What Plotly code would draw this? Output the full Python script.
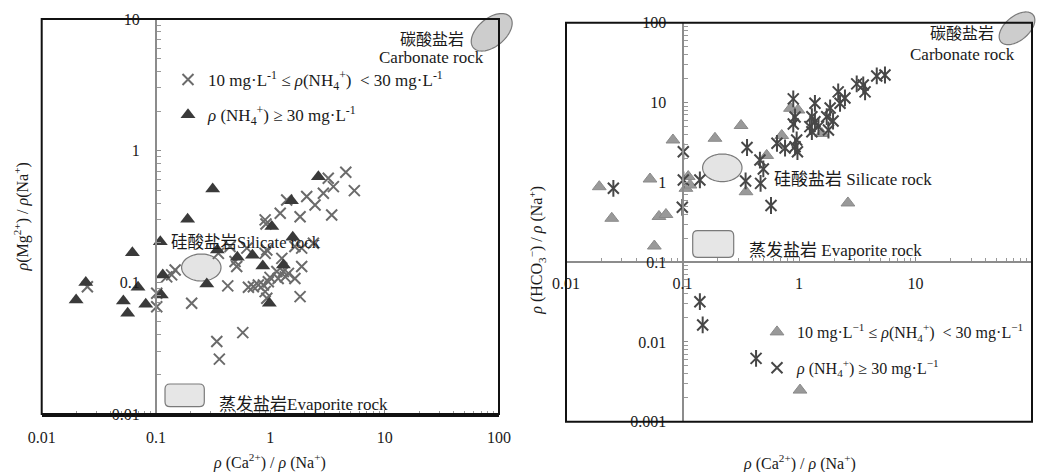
import math
import plotly.graph_objects as go

W, H = 1043, 472
FONT = "Liberation Serif, Noto Sans CJK SC, serif"
TXT = "#1a1a1a"

# ---------------- left panel: rho(Mg2+)/rho(Na+) vs rho(Ca2+)/rho(Na+)
# 10 mg/L <= rho(NH4+) < 30 mg/L
L_MID_CA = [0.0251, 0.1014, 0.1014, 0.124, 0.147, 0.205, 0.424, 0.340, 0.358, 0.574,
            0.643, 0.785, 0.931, 0.993, 1.14, 1.35, 1.64, 1.82, 1.88, 1.26,
            0.508, 0.444, 0.623, 0.931, 1.88, 2.38, 0.90, 0.916, 1.22, 1.39,
            1.82, 2.08, 2.46, 2.91, 3.21, 3.56, 4.57, 5.43, 3.44, 0.351,
            0.90, 1.44, 0.71, 0.137, 1.30, 1.17, 0.96, 0.491, 0.90, 0.869, 1.64]
L_MID_MG = [0.0927, 0.0826, 0.0653, 0.110, 0.124, 0.0694, 0.094, 0.0355, 0.0261, 0.0415,
            0.0918, 0.0955, 0.0757, 0.109, 0.121, 0.110, 0.107, 0.0779, 0.132, 0.152,
            0.132, 0.187, 0.182, 0.176, 0.182, 0.198, 0.298, 0.277, 0.335, 0.422,
            0.315, 0.448, 0.387, 0.475, 0.617, 0.533, 0.686, 0.497, 0.325, 0.166,
            0.085, 0.117, 0.0927, 0.114, 0.121, 0.107, 0.101, 0.144, 0.166, 0.0955, 0.187]
# rho(NH4+) >= 30 mg/L
L_HIGH_CA = [0.020, 0.0243, 0.0518, 0.0565, 0.0621, 0.0696, 0.0813, 0.109, 0.1146, 0.1113,
             0.189, 0.313, 0.278, 0.344, 0.514, 0.697, 0.859, 1.03, 0.98, 1.30,
             1.53, 1.57, 2.63]
L_HIGH_MG = [0.0735, 0.0995, 0.0722, 0.0582, 0.168, 0.0918, 0.0682, 0.203, 0.1138, 0.0802,
             0.301, 0.512, 0.0973, 0.176, 0.155, 0.1606, 0.133, 0.265, 0.0694, 0.1355,
             0.417, 0.220, 0.635]

# ---------------- right panel: rho(HCO3-)/rho(Na+) vs rho(Ca2+)/rho(Na+)
R_MID_CA = [0.0193, 0.0247, 0.0526, 0.0573, 0.0628, 0.0721, 0.0828, 0.112, 0.107, 0.116,
            0.190, 0.318, 0.351, 0.528, 0.711, 0.845, 0.98, 1.57, 2.63, 1.02]
R_MID_HCO3 = [0.881, 0.354, 1.10, 0.159, 0.373, 0.395, 3.39, 1.18, 0.841, 0.925,
              3.56, 5.15, 0.762, 2.17, 3.86, 8.46, 8.05, 4.09, 0.551, 0.00249]
R_HIGH_CA = [0.0255, 0.1016, 0.1016, 0.0996, 0.141, 0.358, 0.348, 0.462, 0.494, 0.468,
             0.575, 0.647, 0.759, 0.925, 0.97, 0.893, 0.925, 0.893, 0.955, 1.29,
             1.37, 1.37, 1.24, 1.47, 1.73, 1.85, 1.79, 1.29, 2.17, 2.25,
             2.48, 3.13, 3.56, 3.69, 4.65, 5.47, 0.141, 0.149, 0.428, 1.96]
R_HIGH_HCO3 = [0.841, 2.42, 1.07, 0.486, 1.07, 2.73, 1.04, 1.90, 1.47, 0.97,
               0.512, 3.08, 2.69, 2.79, 2.42, 11.1, 6.58, 5.38, 3.39, 6.64,
               9.77, 5.74, 4.98, 4.98, 6.64, 8.53, 4.52, 4.31, 13.6, 9.77,
               11.4, 17.1, 16.6, 13.6, 21.5, 22.1, 0.0319, 0.0163, 0.00622, 5.86]

X_TICK_VALS = [0.01, 0.1, 1, 10, 100]
X_TICK_TEXT = ["0.01", "0.1", "1", "10", "100"]
L_Y_TICK_VALS = [0.01, 0.1, 1, 10]
L_Y_TICK_TEXT = ["0.01", "0.1", "1", "10"]
R_Y_TICK_VALS = [0.001, 0.01, 0.1, 1, 10, 100]
R_Y_TICK_TEXT = ["0.001", "0.01", "0.1", "1", "10", "100"]

LEG_MID_L = "10 mg·L<sup>-1</sup> ≤ <i>ρ</i>(NH<sub>4</sub><sup>+</sup>)  < 30 mg·L<sup>-1</sup>"
LEG_HIGH_L = "<i>ρ</i> (NH<sub>4</sub><sup>+</sup>) ≥ 30 mg·L<sup>-1</sup>"
LEG_MID_R = "10 mg·L<sup>−1</sup> ≤ <i>ρ</i>(NH<sub>4</sub><sup>+</sup>)  < 30 mg·L<sup>−1</sup>"
LEG_HIGH_R = "<i>ρ</i> (NH<sub>4</sub><sup>+</sup>) ≥ 30 mg·L<sup>−1</sup>"


def px_x(px):
    return px / W


def px_y(py):
    return 1 - py / H


def minor_ticks(lo_exp, hi_exp):
    return [m * 10 ** e for e in range(lo_exp, hi_exp) for m in range(2, 10)]


def ellipse_path(cx, cy, a, b, deg, n=72):
    t = math.radians(deg)
    pts = []
    for i in range(n):
        u = 2 * math.pi * i / n
        ex, ey = a * math.cos(u), b * math.sin(u)
        sx = cx + ex * math.cos(t) + ey * math.sin(t)
        sy = cy - ex * math.sin(t) + ey * math.cos(t)
        pts.append(f"{px_x(sx):.5f},{px_y(sy):.5f}")
    return "M " + " L ".join(pts) + " Z"


def rounded_rect_path(x0, y0, x1, y1, r):
    def p(x, y):
        return f"{px_x(x):.5f},{px_y(y):.5f}"
    return (f"M {p(x0 + r, y0)} L {p(x1 - r, y0)} Q {p(x1, y0)} {p(x1, y0 + r)} "
            f"L {p(x1, y1 - r)} Q {p(x1, y1)} {p(x1 - r, y1)} "
            f"L {p(x0 + r, y1)} Q {p(x0, y1)} {p(x0, y1 - r)} "
            f"L {p(x0, y0 + r)} Q {p(x0, y0)} {p(x0 + r, y0)} Z")


L_DOM_X = [px_x(41.7), px_x(499)]
L_DOM_Y = [px_y(414), px_y(19)]
R_DOM_X = [px_x(566), px_x(1032)]
R_DOM_Y = [px_y(421.7), px_y(22.7)]

fig = go.Figure()

# left panel series
fig.add_trace(go.Scatter(
    x=L_MID_CA, y=L_MID_MG, mode="markers", name=LEG_MID_L,
    legend="legend", legendgroup="l1", xaxis="x", yaxis="y",
    marker=dict(symbol="x-thin-open", size=11, color="#6b6b6b", line=dict(width=2, color="#6b6b6b"))))
fig.add_trace(go.Scatter(
    x=L_HIGH_CA, y=L_HIGH_MG, mode="markers", name=LEG_HIGH_L,
    legend="legend", legendgroup="l2", xaxis="x", yaxis="y",
    marker=dict(symbol="triangle-up", size=13, color="#3a3a3a", line=dict(width=0))))

# right panel series
fig.add_trace(go.Scatter(
    x=R_MID_CA, y=R_MID_HCO3, mode="markers", name=LEG_MID_R,
    legend="legend2", legendgroup="r1", xaxis="x2", yaxis="y2",
    marker=dict(symbol="triangle-up", size=12, color="#999999",
                line=dict(width=1, color="#8a8a8a"))))
fig.add_trace(go.Scatter(
    x=R_HIGH_CA, y=R_HIGH_HCO3, mode="markers", name=LEG_HIGH_R,
    legend="legend2", legendgroup="r2", xaxis="x2", yaxis="y2",
    marker=dict(symbol="x-thin-open", size=11, color="#474747", line=dict(width=2, color="#474747"))))
fig.add_trace(go.Scatter(
    x=R_HIGH_CA, y=R_HIGH_HCO3, mode="markers", showlegend=False,
    legend="legend2", legendgroup="r2", xaxis="x2", yaxis="y2",
    marker=dict(symbol="line-ns-open", size=12, color="#474747", line=dict(width=2, color="#474747"))))

tickfont = dict(family=FONT, size=16, color=TXT)
common = dict(type="log", showgrid=False, zeroline=False, showline=True, automargin=False,
              ticks="inside", ticklen=4, tickwidth=1, tickfont=tickfont)

fig.update_layout(
    width=W, height=H, margin=dict(l=0, r=0, t=0, b=0, autoexpand=False),
    paper_bgcolor="white", plot_bgcolor="white",
    font=dict(family=FONT, color=TXT, size=15),
    xaxis=dict(common, domain=L_DOM_X, range=[-2, 2], anchor="y",
               tickvals=X_TICK_VALS, ticktext=X_TICK_TEXT,
               linecolor="#111111", linewidth=3, tickcolor="#888888",
               ticklabelstandoff=7,
               minor=dict(tickvals=minor_ticks(-2, 2), ticks="inside", ticklen=3,
                          tickcolor="#999999")),
    yaxis=dict(common, domain=L_DOM_Y, range=[-2, 1], anchor="free",
               position=L_DOM_X[0] + 0.25 * (L_DOM_X[1] - L_DOM_X[0]),
               tickvals=L_Y_TICK_VALS, ticktext=L_Y_TICK_TEXT,
               linecolor="#8c8c8c", linewidth=2, tickcolor="#8c8c8c",
               ticklabelstandoff=12,
               minor=dict(tickvals=minor_ticks(-2, 1), ticks="inside", ticklen=4,
                          tickcolor="#999999")),
    xaxis2=dict(common, domain=R_DOM_X, range=[-2, 2], anchor="free",
                position=R_DOM_Y[0] + 0.4 * (R_DOM_Y[1] - R_DOM_Y[0]),
                tickvals=X_TICK_VALS, ticktext=X_TICK_TEXT,
                linecolor="#8c8c8c", linewidth=2, tickcolor="#8c8c8c",
                ticklabelstandoff=7,
                minor=dict(tickvals=minor_ticks(-2, 2), ticks="inside", ticklen=3,
                           tickcolor="#999999")),
    yaxis2=dict(common, domain=R_DOM_Y, range=[-3, 2], anchor="free",
                position=R_DOM_X[0] + 0.25 * (R_DOM_X[1] - R_DOM_X[0]),
                tickvals=R_Y_TICK_VALS, ticktext=R_Y_TICK_TEXT,
                linecolor="#8c8c8c", linewidth=2, tickcolor="#8c8c8c",
                ticklabelstandoff=12,
                minor=dict(tickvals=minor_ticks(-3, 2), ticks="inside", ticklen=4,
                           tickcolor="#999999")),
    legend=dict(x=px_x(168), y=px_y(62), xanchor="left", yanchor="top",
                bgcolor="rgba(0,0,0,0)", font=dict(family=FONT, size=17, color=TXT),
                traceorder="grouped", tracegroupgap=10, itemsizing="trace"),
    legend2=dict(x=px_x(757), y=px_y(315), xanchor="left", yanchor="top",
                 bgcolor="rgba(0,0,0,0)", font=dict(family=FONT, size=16, color=TXT),
                 traceorder="grouped", tracegroupgap=12, itemsizing="trace"),
)

# rock-type regions
shapes = []
light = dict(color="#7a7a7a", width=1.2)
shapes.append(dict(type="path", xref="paper", yref="paper", layer="below",
                   path=ellipse_path(491.7, 32.3, 24, 14, 40), fillcolor="#cdcdcd", line=light))
shapes.append(dict(type="path", xref="paper", yref="paper", layer="below",
                   path=ellipse_path(201.3, 267.5, 19.7, 13.5, 0), fillcolor="#e4e4e4", line=light))
shapes.append(dict(type="path", xref="paper", yref="paper", layer="below",
                   path=rounded_rect_path(165, 384, 204.3, 406.7, 5), fillcolor="#e6e6e6", line=light))
shapes.append(dict(type="path", xref="paper", yref="paper", layer="below",
                   path=ellipse_path(1017, 28.3, 21, 12, 40), fillcolor="#cdcdcd", line=light))
shapes.append(dict(type="path", xref="paper", yref="paper", layer="below",
                   path=ellipse_path(722.3, 167.8, 19.7, 13.8, 0), fillcolor="#e4e4e4", line=light))
shapes.append(dict(type="path", xref="paper", yref="paper", layer="below",
                   path=rounded_rect_path(692.7, 230.7, 733.7, 257.3, 5), fillcolor="#e6e6e6", line=light))
# panel frames
for dom_x, dom_y in ((L_DOM_X, L_DOM_Y), (R_DOM_X, R_DOM_Y)):
    shapes.append(dict(type="rect", xref="paper", yref="paper", layer="above",
                       x0=dom_x[0], x1=dom_x[1], y0=dom_y[0], y1=dom_y[1],
                       line=dict(color="#111111", width=2), fillcolor="rgba(0,0,0,0)"))
fig.update_layout(shapes=shapes)

ann = []


def label(text, px, py, xanchor="left", size=17, angle=0):
    ann.append(dict(text=text, x=px_x(px), y=px_y(py), xref="paper", yref="paper",
                    xanchor=xanchor, yanchor="middle", showarrow=False, textangle=angle,
                    font=dict(family=FONT, size=size, color=TXT)))


label("碳酸盐岩", 431.7, 39.5, "center", 16)
label("Carbonate rock", 431.7, 57.5, "center")
label("硅酸盐岩Silicate rock", 169, 242.5, size=16.5)
label("蒸发盐岩Evaporite rock", 216.7, 404)
label("碳酸盐岩", 961.7, 33.5, "center", 16)
label("Carbonate rock", 962.5, 54.5, "center")
label("硅酸盐岩 Silicate rock", 772.3, 179)
label("蒸发盐岩 Evaporite rock", 746.7, 250)
label("<i>ρ</i> (Ca<sup>2+</sup>) / <i>ρ</i> (Na<sup>+</sup>)", 269.2, 461.5, "center", 16)
label("<i>ρ</i> (Ca<sup>2+</sup>) / <i>ρ</i> (Na<sup>+</sup>)", 799, 462.5, "center", 16)
label("<i>ρ</i>(Mg<sup>2+</sup>) / <i>ρ</i>(Na<sup>+</sup>)", 21.7, 216.7, "center", 16, angle=-90)
label("<i>ρ</i> (HCO<sub>3</sub><sup>−</sup>) / <i>ρ</i> (Na<sup>+</sup>)", 536.7, 250, "center", 16, angle=-90)
fig.update_layout(annotations=ann)

fig.write_html("out.html")
